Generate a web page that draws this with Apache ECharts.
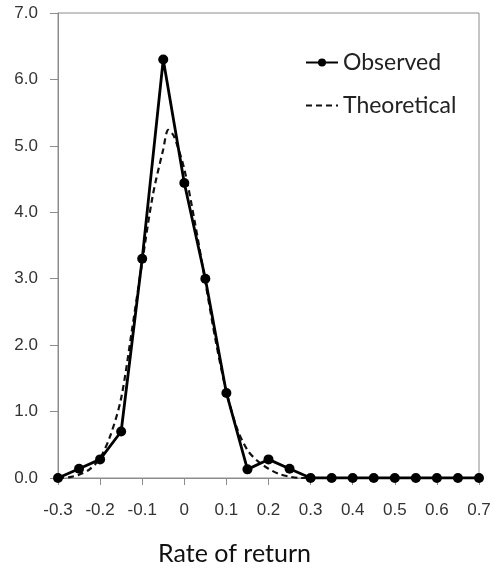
<!DOCTYPE html>
<html>
	<head>
		<meta charset="utf-8">
		<title>Rate of return</title>
		<style>
			html, body { margin: 0; padding: 0; background: #fff; }
			#chart { width: 496px; height: 572px; }
		</style>
	</head>
	<body>
		<div id="chart"></div>
		<script src="https://cdn.jsdelivr.net/npm/echarts@6/dist/echarts.min.js"></script>
		<script>
		// observed points (rate of return, density)
		var obsX = [-0.3, -0.25, -0.2, -0.15, -0.1, -0.05, 0, 0.05, 0.1, 0.15, 0.2, 0.25, 0.3, 0.35, 0.4, 0.45, 0.5, 0.55, 0.6, 0.65, 0.7];
		var obsY = [0, 0.14, 0.28, 0.70, 3.30, 6.30, 4.44, 3.00, 1.28, 0.13, 0.28, 0.14, 0, 0, 0, 0, 0, 0, 0, 0, 0];

		// theoretical curve
		var theoX = [-0.3, -0.275, -0.25, -0.225, -0.2, -0.175, -0.15, -0.125, -0.1, -0.075, -0.05, -0.038, -0.025, 0, 0.025, 0.05, 0.075, 0.1, 0.125, 0.15, 0.175, 0.2, 0.225, 0.25, 0.275, 0.3];
		var theoY = [0, 0.01, 0.05, 0.13, 0.30, 0.65, 1.20, 2.20, 3.25, 4.25, 4.95, 5.24, 5.15, 4.65, 3.85, 2.95, 2.05, 1.30, 0.75, 0.42, 0.25, 0.14, 0.06, 0.02, 0, 0];

		var yTicks = ['0.0', '1.0', '2.0', '3.0', '4.0', '5.0', '6.0', '7.0'];

		function pairs(xs, ys) {
			var out = [];
			for (var i = 0; i < xs.length; i++) out.push([xs[i], ys[i]]);
			return out;
		}

		var myChart = echarts.init(document.getElementById('chart'));
		var option = {
			animation: false,
			grid: {
				left: 58, right: 17, top: 13, bottom: 94,
				show: true, borderColor: '#8c8c8c', borderWidth: 1
			},
			legend: {
				orient: 'vertical',
				left: 300, top: 46,
				itemWidth: 32, itemHeight: 10, itemGap: 20,
				textStyle: { fontFamily: 'Lato', fontSize: 23, color: '#222' },
				data: ['Observed', { name: 'Theoretical', itemStyle: { opacity: 0 } }]
			},
			xAxis: {
				type: 'value',
				min: -0.3, max: 0.7, interval: 0.1,
				name: 'Rate of return',
				nameLocation: 'middle',
				nameGap: 63,
				nameTextStyle: { fontFamily: 'Lato', fontSize: 25, color: '#111', padding: [0, 68, 0, 0] },
				axisLine: { show: true, onZero: false, lineStyle: { color: '#8c8c8c' } },
				axisTick: { show: true, length: 7, lineStyle: { color: '#8c8c8c' } },
				splitLine: { show: false },
				axisLabel: {
					fontFamily: '"Liberation Sans", Arial, sans-serif', fontSize: 17, color: '#333', margin: 24,
					formatter: function (v) { return String(Math.round(v * 10) / 10); }
				}
			},
			yAxis: {
				type: 'value',
				min: 0, max: 7, interval: 1,
				axisLine: { show: true, onZero: false, lineStyle: { color: '#8c8c8c' } },
				axisTick: { show: true, length: 8, lineStyle: { color: '#8c8c8c' } },
				splitLine: { show: false },
				axisLabel: {
					fontFamily: '"Liberation Sans", Arial, sans-serif', fontSize: 17, color: '#333', margin: 20,
					formatter: function (v) { return yTicks[Math.round(v)]; }
				}
			},
			series: [{
				name: 'Theoretical',
				type: 'line',
				smooth: 0.3,
				showSymbol: false,
				symbol: 'none',
				lineStyle: { color: '#111', width: 2.2, type: [6, 4] },
				itemStyle: { color: '#111' },
				data: pairs(theoX, theoY),
				z: 2
			}, {
				name: 'Observed',
				type: 'line',
				symbol: 'circle',
				symbolSize: 10,
				lineStyle: { color: '#000', width: 2.8 },
				itemStyle: { color: '#000' },
				data: pairs(obsX, obsY),
				z: 3
			}]
		};
		myChart.setOption(option);
		</script>
	</body>
</html>
